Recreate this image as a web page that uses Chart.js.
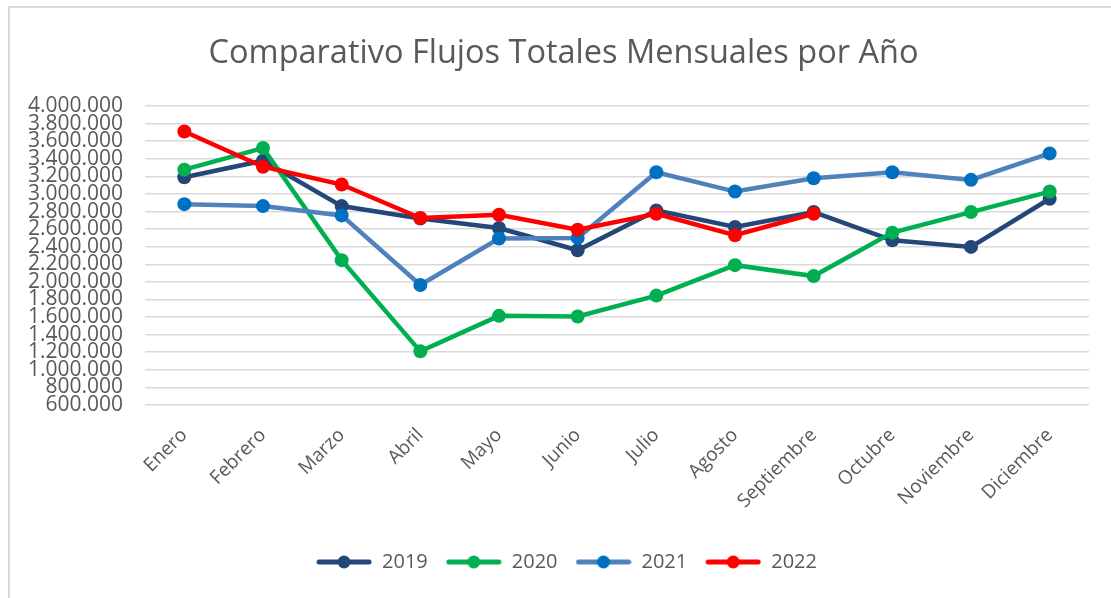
<!DOCTYPE html>
<html>
<head>
<meta charset="utf-8">
<script src="https://cdn.jsdelivr.net/npm/chart.js@4"></script>
<style>
    html, body { margin: 0; padding: 0; background: #fff; }
    #wrap { position: relative; width: 1111px; height: 598px; overflow: hidden; }
    #frame {
        position: absolute; left: 8px; top: 6px; width: 1200px; height: 700px;
        border-left: 2px solid #d9d9d9; border-top: 2px solid #d9d9d9;
    }
    canvas { position: absolute; left: 0; top: 0; }
</style>
</head>
<body>
<div id="wrap">
    <div id="frame"></div>
    <canvas id="flujosChart" width="1111" height="598"></canvas>
</div>
<script>
// Monthly totals per year
const meses = ['Enero', 'Febrero', 'Marzo', 'Abril', 'Mayo', 'Junio', 'Julio',
    'Agosto', 'Septiembre', 'Octubre', 'Noviembre', 'Diciembre'];
const anios = ['2019', '2020', '2021', '2022'];
const flujos2019 = [3190000, 3378000, 2862000, 2720000, 2613000, 2360000, 2813000, 2624000, 2794000, 2473000, 2398000, 2945000];
const flujos2020 = [3276000, 3522000, 2247000, 1210000, 1614000, 1606000, 1844000, 2190000, 2066000, 2560000, 2794000, 3027000];
const flujos2021 = [2884000, 2862000, 2756000, 1965000, 2493000, 2500000, 3246000, 3027000, 3178000, 3246000, 3160000, 3461000];
const flujos2022 = [3710000, 3310000, 3107000, 2726000, 2764000, 2594000, 2775000, 2530000, 2775000, null, null, null];
const yMin = 600000;
const yMax = 4000000;
const yStep = 200000;

const lineColors = ['#24477a', '#00b050', '#4f81bd', '#ff0000'];
const pointColors = ['#24477a', '#00b050', '#0070c0', '#ff0000'];

const fontFamily = "'Open Sans', sans-serif";
const textColor = '#595959';

function formatMiles(v) {
    return String(v).replace(/\B(?=(\d{3})+(?!\d))/g, '.');
}

// Legend marker: short line with a dot in the middle, like Excel
function legendMarker(i) {
    const c = document.createElement('canvas');
    c.width = 56;
    c.height = 16;
    const g = c.getContext('2d');
    g.strokeStyle = lineColors[i];
    g.lineWidth = 5;
    g.lineCap = 'round';
    g.beginPath();
    g.moveTo(3, 8);
    g.lineTo(53, 8);
    g.stroke();
    g.fillStyle = pointColors[i];
    g.beginPath();
    g.arc(28, 8, 6.5, 0, Math.PI * 2);
    g.fill();
    return c;
}

// Title and legend are centred on the whole frame, not on the padded box
const shiftBlocks = {
    id: 'shiftBlocks',
    afterLayout(chart) {
        if (chart.titleBlock) {
            chart.titleBlock.left += 14;
            chart.titleBlock.right += 14;
        }
        if (chart.legend) {
            chart.legend.left += 17;
            chart.legend.right += 17;
        }
    }
};

const series = [flujos2019, flujos2020, flujos2021, flujos2022];

const datasets = series.map((data, i) => ({
    label: anios[i],
    data: data,
    borderColor: lineColors[i],
    backgroundColor: pointColors[i],
    pointBackgroundColor: pointColors[i],
    pointBorderColor: pointColors[i],
    pointBorderWidth: 0,
    pointRadius: 7,
    pointHoverRadius: 7,
    pointStyle: 'circle',
    legendImg: legendMarker(i),
    borderWidth: 4.5,
    tension: 0,
    spanGaps: false,
    order: series.length - i
}));

const ctx = document.getElementById('flujosChart');

new Chart(ctx, {
    type: 'line',
    data: { labels: meses, datasets: datasets },
    plugins: [shiftBlocks],
    options: {
        responsive: false,
        animation: false,
        layout: { padding: { left: 10, right: 22, top: 34, bottom: 16 } },
        plugins: {
            title: {
                display: true,
                text: 'Comparativo Flujos Totales Mensuales por Año',
                color: textColor,
                font: { family: fontFamily, size: 32.5, weight: 'normal' },
                padding: { top: 0, bottom: 33 }
            },
            legend: {
                position: 'bottom',
                labels: {
                    color: textColor,
                    font: { family: fontFamily, size: 20 },
                    usePointStyle: true,
                    pointStyleWidth: 56,
                    boxHeight: 16,
                    padding: 18,
                    generateLabels: function (chart) {
                        return chart.data.datasets.map((ds, i) => ({
                            text: ds.label,
                            fillStyle: ds.borderColor,
                            strokeStyle: ds.borderColor,
                            lineWidth: 0,
                            pointStyle: ds.legendImg,
                            hidden: !chart.isDatasetVisible(i),
                            datasetIndex: i,
                            fontColor: textColor
                        }));
                    }
                }
            },
            tooltip: { enabled: false }
        },
        scales: {
            x: {
                offset: true,
                grid: { display: false, drawTicks: false },
                border: { display: false },
                ticks: {
                    color: textColor,
                    font: { family: fontFamily, size: 19 },
                    maxRotation: 45,
                    minRotation: 45,
                    autoSkip: false,
                    padding: 19
                },
                afterFit: scale => { scale.height = 129; }
            },
            y: {
                min: yMin,
                max: yMax,
                grid: { color: '#d9d9d9', lineWidth: 1.5, drawTicks: false },
                border: { display: false },
                ticks: {
                    stepSize: yStep,
                    autoSkip: false,
                    color: textColor,
                    font: { family: fontFamily, size: 21 },
                    padding: 22,
                    callback: v => formatMiles(v)
                },
                afterFit: scale => { scale.width = 135; }
            }
        }
    }
});
</script>
</body>
</html>
